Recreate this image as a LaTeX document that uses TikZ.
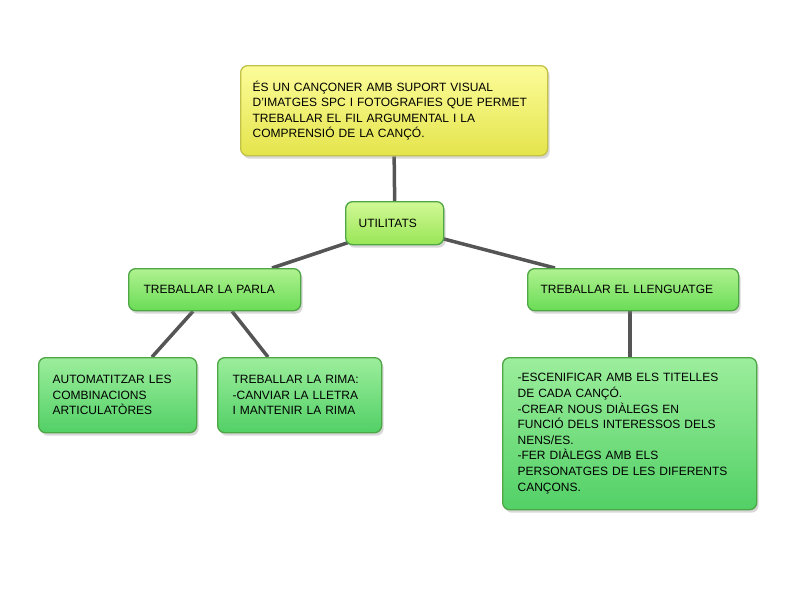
\documentclass[tikz,border=0pt]{standalone}
\usepackage{fontspec}
\setmainfont{Liberation Sans}
\usepackage{tikz}
\usetikzlibrary{calc,positioning,shadows,backgrounds}

\definecolor{lineGray}{HTML}{555555}
\definecolor{yelTop}{HTML}{FCFC9A}
\definecolor{yelBot}{HTML}{E4E44C}
\definecolor{yelEdge}{HTML}{C2C24A}
\definecolor{limeTop}{HTML}{D2F896}
\definecolor{limeBot}{HTML}{98E656}
\definecolor{grnTop}{HTML}{B0F290}
\definecolor{grnBot}{HTML}{6ADC56}
\definecolor{mintTop}{HTML}{9CEE9C}
\definecolor{mintBot}{HTML}{52D066}
\definecolor{grnEdge}{HTML}{4FA645}

\tikzset{
  box/.style={rectangle, rounded corners=7pt, line width=1.3pt, align=left,
    font=\fontsize{12}{15.6}\selectfont, inner ysep=4pt,
    drop shadow={shadow xshift=2pt, shadow yshift=-3pt, opacity=0.3}},
  yelbox/.style={box, draw=yelEdge, top color=yelTop, bottom color=yelBot},
  limebox/.style={box, draw=grnEdge, top color=limeTop, bottom color=limeBot},
  grnbox/.style={box, draw=grnEdge, top color=grnTop, bottom color=grnBot},
  mintbox/.style={box, draw=grnEdge, top color=mintTop, bottom color=mintBot},
  conn/.style={draw=lineGray, line width=3.5pt}
}

\begin{document}
\begin{tikzpicture}[x=1pt, y=-1pt]
    \useasboundingbox (0,0) rectangle (794,595);

    \node[yelbox, anchor=north west, inner xsep=12pt, text width=283pt, minimum height=90pt] (canconer) at (240,65)
      {ÉS UN CANÇONER AMB SUPORT VISUAL\\D’IMATGES SPC I FOTOGRAFIES QUE PERMET\\TREBALLAR EL FIL ARGUMENTAL I LA\\COMPRENSIÓ DE LA CANÇÓ.};

    \node[limebox, anchor=north west, inner xsep=13pt, text width=72pt, minimum height=43pt] (utilitats) at (345,201) {UTILITATS};

    \node[grnbox, anchor=north west, inner xsep=15pt, text width=142pt, minimum height=42pt] (parla) at (128,268) {TREBALLAR LA PARLA};
    \node[grnbox, anchor=north west, inner xsep=13pt, text width=185pt, minimum height=42pt] (llenguatge) at (527,268) {TREBALLAR EL LLENGUATGE};

    \node[mintbox, anchor=north west, inner xsep=14pt, text width=130pt, minimum height=75pt] (automat) at (38,357)
      {AUTOMATITZAR LES\\COMBINACIONS\\ARTICULATÒRES};
    \node[mintbox, anchor=north west, inner xsep=15pt, text width=134pt, minimum height=75pt] (rima) at (217,357)
      {TREBALLAR LA RIMA:\\-CANVIAR LA LLETRA\\I MANTENIR LA RIMA};
    \node[mintbox, anchor=north west, inner xsep=15pt, text width=224pt, minimum height=152pt] (dialegs) at (502,357)
      {-ESCENIFICAR AMB ELS TITELLES\\DE CADA CANÇÓ.\\-CREAR NOUS DIÀLEGS EN\\FUNCIÓ DELS INTERESSOS DELS\\NENS/ES.\\-FER DIÀLEGS AMB ELS\\PERSONATGES DE LES DIFERENTS\\CANÇONS.};

    % white page, then the connectors, all behind the boxes
    \begin{scope}[on background layer]
      \fill[white] (0,0) rectangle (794,595);
      \draw[conn] (canconer.south) -- (utilitats.north);
      \draw[conn] ([shift={(7pt,4pt)}]utilitats.south west) -- ([xshift=144pt]parla.north west);
      \draw[conn] ([shift={(-3pt,7pt)}]utilitats.south east) -- ([xshift=28pt]llenguatge.north west);
      \draw[conn] ([xshift=65pt]parla.south west) -- ([xshift=114pt]automat.north west);
      \draw[conn] ([xshift=104pt]parla.south west) -- ([xshift=51pt]rima.north west);
      \draw[conn] ([xshift=103pt]llenguatge.south west) -- ([xshift=128pt]dialegs.north west);
    \end{scope}

\end{tikzpicture}
\end{document}
